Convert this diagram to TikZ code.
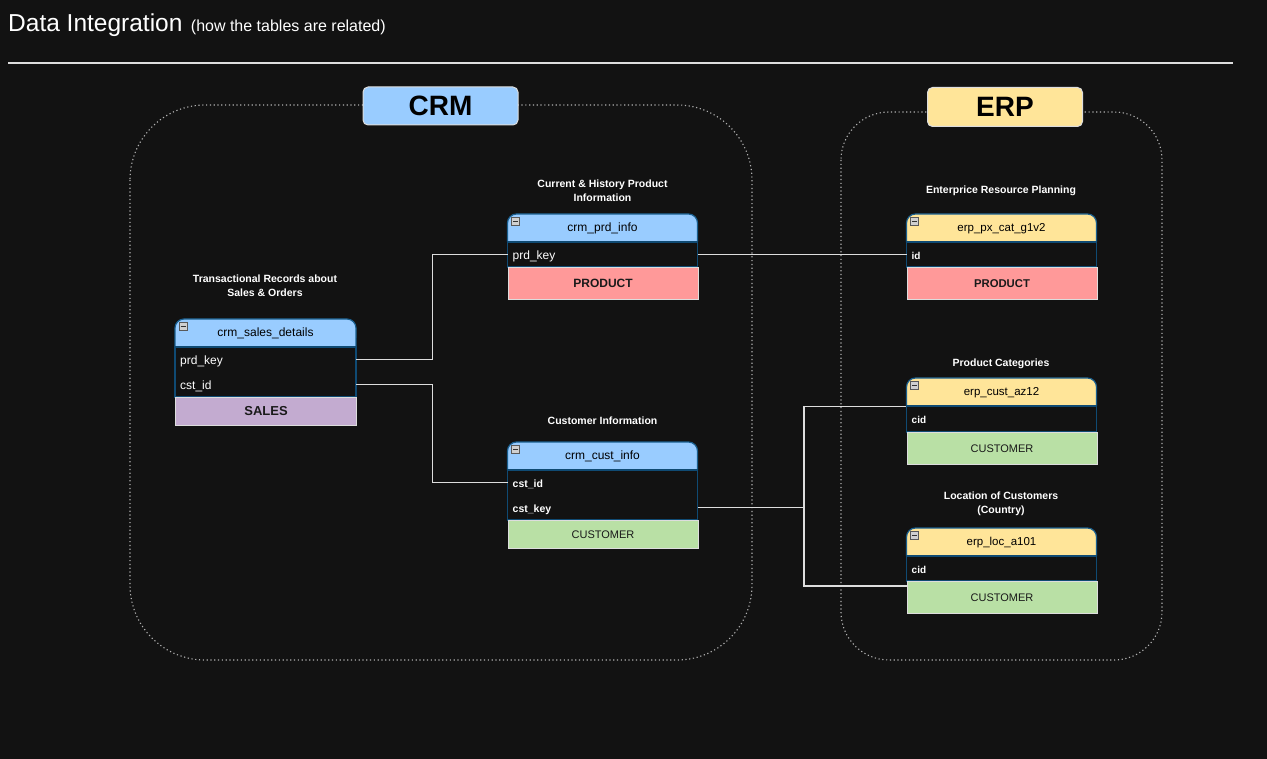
\documentclass[tikz,border=0pt]{standalone}
\usepackage{fontspec}
\setmainfont{Liberation Sans}
\definecolor{bg}{HTML}{121212}
\definecolor{hblue}{HTML}{99CCFF}
\definecolor{hyellow}{HTML}{FFE599}
\definecolor{cred}{HTML}{FF9999}
\definecolor{cgreen}{HTML}{B9E0A5}
\definecolor{cpurple}{HTML}{C3ABD0}
\definecolor{tborder}{HTML}{1A5F8F}
\definecolor{bborder}{HTML}{0F4A73}
\definecolor{lgray}{HTML}{DDDDDD}
\definecolor{dotgray}{HTML}{B0B0B0}
\definecolor{icongray}{HTML}{D0D0D0}
\definecolor{darktext}{HTML}{1A1A1A}
\tikzset{
  hdrtxt/.style={text=black, inner sep=0pt, minimum height=28pt},
  rowtxt/.style={text=white, inner xsep=5pt, inner ysep=0pt, align=left, text height=9.5pt, text depth=0pt},
  rowreg/.style={font=\fontsize{12}{14}\selectfont},
  rowbold/.style={font=\fontsize{10.5}{13}\selectfont\bfseries},
  rowerp/.style={font=\fontsize{10}{12}\selectfont\bfseries},
  botbox/.style={draw=lgray, line width=1pt, text=darktext, inner sep=0pt, anchor=north west},
  desc/.style={text=white, font=\fontsize{10.5}{14}\selectfont\bfseries, align=center, inner sep=0pt},
  grpbox/.style={draw=lgray, line width=1pt, rounded corners=5pt, text=black, font=\fontsize{28}{30}\selectfont\bfseries, inner sep=0pt},
  container/.style={draw=dotgray, line width=1.1pt, dash pattern=on 1.2pt off 2.6pt},
  conn/.style={draw=lgray, line width=1.2pt},
  iconst/.style={draw=gray!70!black, fill=icongray, line width=0.5pt},
}
\newcommand{\mkhead}[7]{%
  \fill[#5, rounded corners=9pt] (#2,#3) rectangle ++(#4,28);
  \fill[#5] (#2,#3+14) rectangle ++(#4,14);
  \draw[tborder, line width=1.2pt, rounded corners=9pt] (#2,#3+28) -- (#2,#3) -- (#2+#4,#3) -- (#2+#4,#3+28);
  \draw[iconst] (#2+4,#3+3) rectangle ++(8,8);
  \draw[black!80, line width=0.9pt] (#2+5.5,#3+7) -- ++(5,0);
  \node[hdrtxt, font=\fontsize{#6}{#6}\selectfont, minimum width=#4pt] (#1) at (#2+#4/2,#3+14.5) {#7};
}
\newcommand{\mkrow}[7]{%
  \pgfmathsetmacro\tw{#4-10}%
  \node[rowtxt, #6, text width=\tw pt, minimum height=#5pt, anchor=north west] (#1) at (#2,#3) {#7};
}
\newcommand{\mkbody}[4]{%
  \draw[bborder, line width=1.2pt] (#1,#2) rectangle ++(#3,#4);
}
\begin{document}
\begin{tikzpicture}[x=1pt,y=-1pt]
\useasboundingbox (0,0) rectangle (1267,759);
\fill[bg] (0,0) rectangle (1267,759);

% title
\node[text=white, inner sep=0pt, anchor=base west, font=\fontsize{24.5}{28}\selectfont] (title) at (8,31.5) {Data Integration};
\node[text=white, inner sep=0pt, anchor=base west, font=\fontsize{16}{20}\selectfont] (subtitle) at ([xshift=8pt]title.base east) {(how the tables are related)};
\coordinate (ruleL) at (8,63);
\coordinate (ruleR) at (1233,63);
\draw[lgray, line width=2pt] (ruleL) -- (ruleR);

% containers
\draw[container, rounded corners=75pt] (130,105) rectangle (752,660);
\draw[container, rounded corners=48pt] (841,112) rectangle (1162,660);
\node[grpbox, fill=hblue, minimum width=155pt, minimum height=38pt] (crm) at (440.5,106) {CRM};
\node[grpbox, fill=hyellow, minimum width=155pt, minimum height=39pt] (erp) at (1005,107) {ERP};

% descriptions
\node[desc] (d-sales) at (265,285.5) {Transactional Records about\\Sales \& Orders};
\node[desc] (d-prd) at (602.5,190.5) {Current \& History Product\\Information};
\node[desc] (d-cust) at (602.5,420.5) {Customer Information};
\node[desc] (d-px) at (1001,190.5) {Enterprice Resource Planning};
\node[desc] (d-az) at (1001,363.5) {Product Categories};
\node[desc] (d-loc) at (1001,504) {Location of Customers\\(Country)};

% crm_sales_details
\mkhead{sales-h}{175}{319}{181}{hblue}{12}{crm\_sales\_details}
\mkrow{sales-r1}{175}{347}{181}{25}{rowreg}{prd\_key}
\mkrow{sales-r2}{175}{372}{181}{25}{rowreg}{cst\_id}
\mkbody{175}{347}{181}{50}
\node[botbox, fill=cpurple, minimum width=181pt, minimum height=28pt, font=\fontsize{13}{15}\selectfont\bfseries] (sales-b) at (175,397) {SALES};

% crm_prd_info
\mkhead{prd-h}{507.5}{214}{190}{hblue}{12}{crm\_prd\_info}
\mkrow{prd-r1}{507.5}{242}{190}{25}{rowreg}{prd\_key}
\mkbody{507.5}{242}{190}{25}
\node[botbox, fill=cred, minimum width=190pt, minimum height=32pt, font=\fontsize{12}{14}\selectfont\bfseries] (prd-b) at (507.5,267) {PRODUCT};

% crm_cust_info
\mkhead{cust-h}{507.5}{442}{190}{hblue}{12}{crm\_cust\_info}
\mkrow{cust-r1}{507.5}{470}{190}{25}{rowbold}{cst\_id}
\mkrow{cust-r2}{507.5}{495}{190}{25}{rowbold}{cst\_key}
\mkbody{507.5}{470}{190}{50}
\node[botbox, fill=cgreen, minimum width=190pt, minimum height=28pt, font=\fontsize{11}{13}\selectfont] (cust-b) at (507.5,520) {CUSTOMER};

% erp_px_cat_g1v2
\mkhead{px-h}{906.5}{214}{190}{hyellow}{11.5}{erp\_px\_cat\_g1v2}
\mkrow{px-r1}{906.5}{242}{190}{25}{rowerp}{id}
\mkbody{906.5}{242}{190}{25}
\node[botbox, fill=cred, minimum width=190pt, minimum height=32pt, font=\fontsize{11.3}{13}\selectfont\bfseries] (px-b) at (906.5,267) {PRODUCT};

% erp_cust_az12
\mkhead{az-h}{906.5}{378}{190}{hyellow}{11.5}{erp\_cust\_az12}
\mkrow{az-r1}{906.5}{406}{190}{26}{rowerp}{cid}
\mkbody{906.5}{406}{190}{26}
\node[botbox, fill=cgreen, minimum width=190pt, minimum height=32pt, font=\fontsize{11}{13}\selectfont] (az-b) at (906.5,432) {CUSTOMER};

% erp_loc_a101
\mkhead{loc-h}{906.5}{528}{190}{hyellow}{11.5}{erp\_loc\_a101}
\mkrow{loc-r1}{906.5}{556}{190}{25}{rowerp}{cid}
\mkbody{906.5}{556}{190}{25}
\node[botbox, fill=cgreen, minimum width=190pt, minimum height=32pt, font=\fontsize{11}{13}\selectfont] (loc-b) at (906.5,581) {CUSTOMER};

% connectors
\draw[conn] (sales-r1.east) -- ++(76,0) |- (prd-r1.west);
\draw[conn] (sales-r2.east) -- ++(76,0) |- (cust-r1.west);
\draw[conn] (prd-r1.east) -- (px-r1.west);
\draw[conn] (cust-r2.east) -- ++(106,0) coordinate (jn) |- (az-h.south west);
\coordinate (locin) at (906.5,586);
\draw[conn] (jn) |- (locin);
\end{tikzpicture}
\end{document}
